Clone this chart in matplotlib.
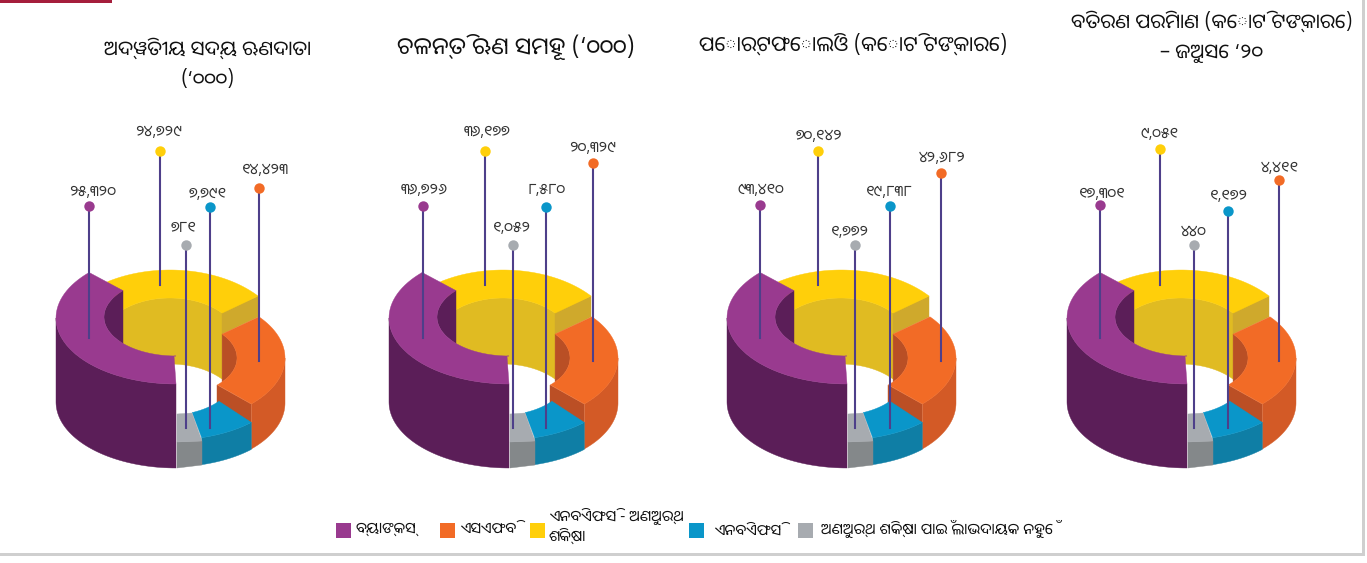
import numpy as np
from matplotlib import pyplot as plt
from matplotlib.patches import Polygon, Rectangle

plt.rcParams['font.family'] = ['Noto Sans Oriya', 'Noto Sans', 'DejaVu Sans']

# data
titles = ['ଅଦ୍ୱିତୀୟ ସଦ୍ୟ ଋଣଦାତା\n(‘୦୦୦)',
          'ଚଳନ୍ତି ଋଣ ସମୂହ (‘୦୦୦)',
          'ପୋର୍ଟଫୋଲିଓ (କୋଟି ଟଙ୍କାରେ)',
          'ବିତରଣ ପରିମାଣ (କୋଟି ଟଙ୍କାରେ)\n– ଜୁଅସେ ‘୨୦']
banks = [25320, 36726, 93410, 17301]
nbfc_mfi = [24729, 36177, 70142, 9051]
not_for_profit = [781, 1052, 1772, 440]
nbfc = [7791, 8580, 19838, 1172]
sfb = [14423, 20329, 42682, 4411]
series = [banks, nbfc_mfi, not_for_profit, nbfc, sfb]

legend_labels = ['ବ୍ୟାଙ୍କସ୍', 'ଏସଏଫବି', 'ଏନବିଏଫସି - ଅଣୁଅର୍ଥ\nଶିକ୍ଷା', 'ଏନବିଏଫସି',
                 'ଅଣୁଅର୍ଥ ଶିକ୍ଷା ପାଇଁ ଲାଭଦାୟକ ନୁହେଁ']

# layout, all in pixels of the picture
W, H = 1367, 563
panel_dx = [0, 333, 671, 1011]
colors = ['#993a8f', '#ffcf0a', '#a7abb0', '#0a96c9', '#f26b26']
stem_x = [[89, 160, 186, 210, 259], [423, 485, 513, 546, 593],
          [760, 818, 855, 890, 941], [1100, 1160, 1194, 1228, 1279]]
stem_top = [[206, 151, 245, 207, 188], [206, 151, 245, 207, 163],
            [205, 151, 245, 206, 173], [205, 149, 245, 211, 180]]
stem_bottom = [338, 285, 428, 428, 361]
label_x = [[93, 159, 184, 208, 265], [424, 487, 512, 547, 593],
           [761, 819, 850, 889, 942], [1102, 1160, 1194, 1229, 1280]]
label_y = [[192, 132, 228, 194, 170], [191, 132, 228, 191, 148],
           [191, 136, 232, 192, 159], [194, 134, 232, 197, 168]]
title_pos = [(208, 64), (516, 47), (853, 44), (1212, 37)]
title_size = [14.5, 17, 15, 14.5]
legend_box_x = [336, 440, 530, 689, 798]
legend_text_x = [356, 460, 549, 714, 821]
legend_text_y = [529, 529, 526, 531, 529]


def arc(cx, cy, rx, ry, t0, t1, drop=0):
  t = np.radians(np.linspace(t0, t1, 50))
  return np.column_stack([cx + rx*np.cos(t), cy + ry*np.sin(t) + drop])


def odia(n):
  return f'{n:,}'.translate(str.maketrans('0123456789', '୦୧୨୩୪୫୬୭୮୯'))


def donut(ax, dx):
  def fill(color, *parts):
    pts = np.vstack(parts) + [dx, 0]
    ax.add_patch(Polygon(pts, closed=True, fc=color, ec=color, lw=0.3))

  # yellow, back part
  fill('#e0bb22', arc(170, 342, 69, 44, 319, 223), arc(170, 342, 69, 44, 223, 319, 66))
  fill('#cfa92c', [(222, 312), (258, 296), (258, 317), (222, 334)])
  fill('#ffcf0a', arc(170, 343, 115, 73, 237, 320), arc(170, 342, 69, 44, 319, 223))

  # orange
  fill('#b94f25', arc(170, 358, 67, 38, 321, 399))
  fill('#bb4f25', [(217, 385), (251, 404), (251, 423), (217, 403)])
  fill('#d35a26', arc(170, 358, 115, 65, 0, 45), arc(170, 358, 115, 65, 45, 0, 45))
  fill('#f26b26', arc(170, 358, 115, 65, 320.7, 405), arc(170, 358, 67, 38, 45, -39))

  # blue
  fill('#0f7ea5', arc(170, 380, 115, 60, 45, 74), arc(170, 380, 115, 60, 74, 45, 27))
  fill('#0a96c9', arc(170, 370, 68, 45, 71, 44), arc(170, 380, 115, 60, 45, 74))

  # grey
  fill('#84888a', [(177, 442), (202, 441), (202, 465), (177, 468)])
  fill('#a7abb0', [(177, 414), (192, 413), (202, 441), (177, 442)])

  # purple, sits in front of the rest
  fill('#5b1e58', arc(176, 318, 120, 66, 180, 90), arc(176, 318, 120, 66, 90, 180, 84))
  fill('#5b1e58', arc(176, 317, 72, 39, 222.6, 137.4))
  fill('#993a8f', arc(176, 318, 120, 66, 223.6, 90), [(174, 356)], arc(176, 317, 72, 39, 90, 222.6))


fig = plt.figure(figsize=(W/100, H/100), dpi=100)
ax = fig.add_axes([0, 0, 1, 1])
ax.set_xlim(0, W)
ax.set_ylim(H, 0)
ax.axis('off')

# page furniture
ax.add_patch(Rectangle((0, 0), 112, 3, fc='#a51e3c', ec='none'))
ax.add_patch(Rectangle((0, 553), 1365, 3, fc='#cfcfcf', ec='none'))
ax.add_patch(Rectangle((1362, 0), 3, 556, fc='#cfcfcf', ec='none'))

for p, dx in enumerate(panel_dx):
  donut(ax, dx)
  for s, values in enumerate(series):
    x = stem_x[p][s]
    ax.plot([x, x], [stem_top[p][s], stem_bottom[s]], color='#4e3f8a', lw=1.5, zorder=4)
    ax.plot(x, stem_top[p][s], 'o', color=colors[s], ms=7.5, mew=0, zorder=5)
    ax.text(label_x[p][s], label_y[p][s], odia(values[p]), ha='center', va='center',
            fontsize=11, color='#333333')
  ax.text(title_pos[p][0], title_pos[p][1], titles[p], ha='center', va='center',
          fontsize=title_size[p], color='#111111', linespacing=1.65)

# legend order in the picture: banks, SFB, NBFC-MFI, NBFC, not for profit
legend_colors = [colors[0], colors[4], colors[1], colors[3], colors[2]]
for i, label in enumerate(legend_labels):
  ax.add_patch(Rectangle((legend_box_x[i], 523), 15, 15, fc=legend_colors[i], ec='none'))
  ax.text(legend_text_x[i], legend_text_y[i], label, ha='left', va='center', fontsize=11,
          color='#111111', linespacing=1.3)

fig.savefig('out.png', dpi=100)
